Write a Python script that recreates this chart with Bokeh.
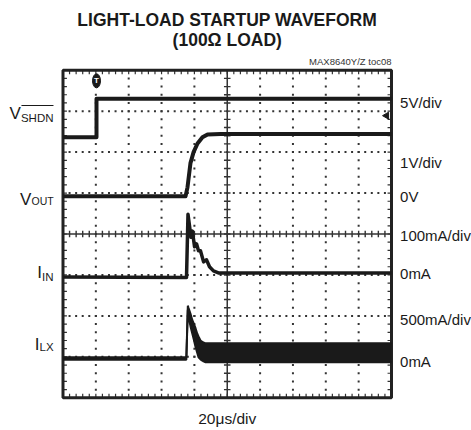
from bokeh.plotting import figure
from bokeh.models import Range1d, Label
from bokeh.embed import file_html
from bokeh.resources import INLINE
import numpy as np

# ---- data (time in microseconds, 20us/div; vertical position in screen divisions, 8 div) ----
shdn_t = [0, 20.4, 20.4, 200]
shdn_d = [6.36, 6.36, 7.30, 7.30]

vout_t = [0, 74.6, 75.8, 77.6, 79.5, 81.9, 84.9, 88.0, 95.9, 200]
vout_d = [4.92, 4.92, 5.14, 5.73, 6.00, 6.21, 6.36, 6.43, 6.44, 6.44]

iin_t = [0, 75.2, 76.1, 77.0, 77.9, 78.8, 80.1, 81.3, 82.5, 83.7, 85.6, 87.4, 89.2, 91.6, 94.6, 200]
iin_d = [2.95, 2.94, 4.48, 4.21, 3.92, 4.07, 3.69, 3.76, 3.59, 3.59, 3.32, 3.37, 3.20, 3.10, 3.05, 3.05]

ilx_t = [0, 75.1, 76.0, 76.4, 77.6, 78.7, 79.6, 80.7, 81.7, 82.5, 83.7, 84.8, 85.5, 86.8, 200]
ilx_hi = [0.99, 0.99, 2.25, 2.20, 2.06, 1.90, 1.82, 1.70, 1.57, 1.50, 1.40, 1.37, 1.35, 1.33, 1.33]
ilx_lo = [0.93, 0.93, 2.15, 1.97, 1.75, 1.57, 1.43, 1.24, 1.10, 0.99, 0.94, 0.91, 0.89, 0.87, 0.87]

scale_labels = ["5V/div", "1V/div", "0V", "100mA/div", "0mA", "500mA/div", "0mA"]
scale_label_d = [7.206, 5.753, 4.921, 3.963, 3.035, 1.917, 0.882]

time_label = "20\u03bcs/div"
title1 = "LIGHT-LOAD STARTUP WAVEFORM"
title2 = "(100\u03a9 LOAD)"
watermark = "MAX8640Y/Z toc08"

trigger_t = 20.4
TMAX, DMAX = 200, 8  # 10 horizontal x 8 vertical divisions

INK = "#1a1a1a"
GRID = "#333333"
FONT = "Liberation Sans"

# the plotting frame covers the whole canvas; the scope screen is drawn inside it
p = figure(width=471, height=430, output_backend="svg", toolbar_location=None,
           x_range=Range1d(-38.05, 248.71), y_range=Range1d(-0.798, 9.702),
           x_axis_type=None, y_axis_type=None,
           min_border_left=0, min_border_right=0, min_border_top=0, min_border_bottom=0)
p.grid.visible = False
p.outline_line_color = None
p.background_fill_color = "white"
p.border_fill_color = "white"

# ---- graticule ----
minor_t = np.arange(0, TMAX + 0.01, 4.0)
minor_d = np.arange(0, DMAX + 0.001, 0.2)
for d in [1, 2, 3, 5, 6, 7]:
    p.scatter(minor_t[1:-1], np.full(len(minor_t) - 2, float(d)), marker="square", size=2,
              fill_color=GRID, line_color=None)
for t in [20, 40, 60, 80, 120, 140, 160, 180]:
    p.scatter(np.full(len(minor_d) - 2, float(t)), minor_d[1:-1], marker="square", size=2,
              fill_color=GRID, line_color=None)
# center cross with minor ticks
p.segment(x0=[100, 0], y0=[0, 4], x1=[100, 200], y1=[8, 4], line_color=GRID, line_width=1.5)
p.segment(x0=np.full_like(minor_d, 98.0), y0=minor_d, x1=np.full_like(minor_d, 102.0), y1=minor_d,
          line_color=GRID, line_width=1.4)
p.segment(x0=minor_t, y0=np.full_like(minor_t, 3.92), x1=minor_t, y1=np.full_like(minor_t, 4.08),
          line_color=GRID, line_width=1.4)
# border ticks (inward)
p.segment(x0=minor_t, y0=np.full_like(minor_t, 8.0), x1=minor_t, y1=np.full_like(minor_t, 7.9),
          line_color=GRID, line_width=1.2)
p.segment(x0=minor_t, y0=np.full_like(minor_t, 0.0), x1=minor_t, y1=np.full_like(minor_t, 0.1),
          line_color=GRID, line_width=1.2)
p.segment(x0=np.full_like(minor_d, 0.0), y0=minor_d, x1=np.full_like(minor_d, 2.4), y1=minor_d,
          line_color=GRID, line_width=1.2)
p.segment(x0=np.full_like(minor_d, 200.0), y0=minor_d, x1=np.full_like(minor_d, 197.6), y1=minor_d,
          line_color=GRID, line_width=1.2)
# screen border
p.quad(left=[0], right=[TMAX], bottom=[0], top=[DMAX], fill_color=None,
       line_color="#222222", line_width=3)

# ---- traces ----
p.line(shdn_t, shdn_d, line_color=INK, line_width=4, line_join="round")
p.line(vout_t, vout_d, line_color=INK, line_width=4, line_join="round")
p.line(iin_t, iin_d, line_color=INK, line_width=3.5, line_join="round")
p.varea(x=ilx_t, y1=ilx_lo, y2=ilx_hi, fill_color=INK)
p.line(ilx_t, ilx_hi, line_color=INK, line_width=2)
p.line(ilx_t, ilx_lo, line_color=INK, line_width=2)

# trigger marker and level marker
p.ellipse(x=[trigger_t], y=[7.74], width=8, height=14, width_units="screen", height_units="screen",
          fill_color=INK, line_color=INK)
p.text(x=[trigger_t], y=[7.74], text=["T"], text_color="white", text_font_size="8px",
       text_font_style="bold", text_align="center", text_baseline="middle")
p.scatter(x=[197.0], y=[6.89], marker="triangle", angle=np.pi / 2, size=7, fill_color=INK, line_color=INK)

# ---- texts (y = vertical centre of the capitals) ----
def lab(x, y, text, size, align="left", style="normal", color=INK):
    p.add_layout(Label(x=x, y=y, text=text, text_font=FONT, text_font_size=size,
                       text_align=align, text_baseline="middle", text_font_style=style,
                       text_color=color))

for s, d in zip(scale_labels, scale_label_d):
    lab(205.2, d, s, "15px")

# channel names
lab(-25.6, 6.935, "V", "17px", align="right")
lab(-25.6, 6.838, "SHDN", "11.5px")
p.segment(x0=[-25.3], y0=[7.138], x1=[-5.8], y1=[7.138], line_color=INK, line_width=1.2)
lab(-19.2, 4.85, "V", "17px", align="right")
lab(-19.2, 4.809, "OUT", "10.5px")
lab(-12.8, 3.067, "I", "17px", align="right")
lab(-12.8, 2.950, "IN", "11.5px")
lab(-14.3, 1.302, "I", "17px", align="right")
lab(-14.3, 1.238, "LX", "11.5px")

lab(100, -0.50, time_label, "15.5px", align="center")
lab(100, 9.233, title1, "17.5px", align="center", style="bold")
lab(100, 8.733, title2, "17.5px", align="center", style="bold")
lab(200, 8.22, watermark, "9.5px", align="right", color="#333333")

open("out.html", "w").write(file_html(p, INLINE))
